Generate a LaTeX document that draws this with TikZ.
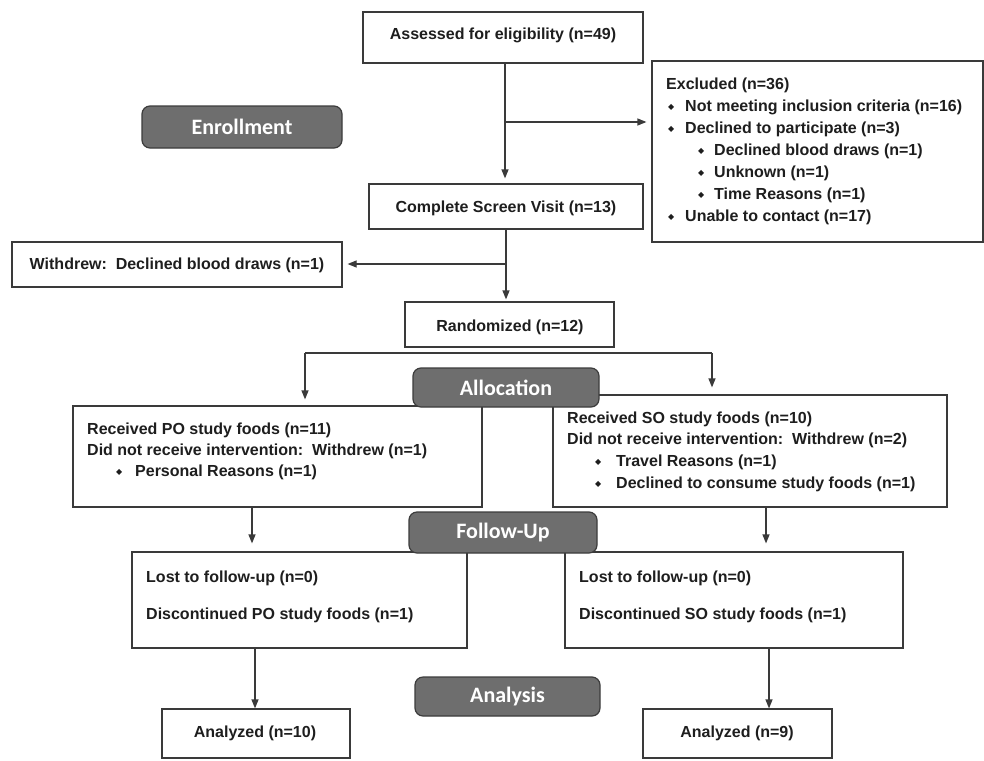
\documentclass[tikz,border=0pt]{standalone}
\usepackage{fontspec}
\setmainfont{Liberation Sans}
\newfontfamily\calib{Carlito}
\newfontfamily\djv{DejaVu Sans}
\usetikzlibrary{arrows.meta}
\definecolor{boxc}{HTML}{3A3A3A}
\definecolor{phasefill}{HTML}{6E6E6E}
\definecolor{phasedraw}{HTML}{3C3C3C}
\definecolor{txtc}{HTML}{1E1E1E}
\newcommand\bul[1]{\makebox[#1pt][l]{\raisebox{2pt}{\djv\fontsize{8}{8}\selectfont ◆}}}
\tikzset{
  box/.style={draw=boxc, line width=1.2pt, fill=white, inner sep=0pt},
  phase/.style={draw=phasedraw, line width=1.2pt, fill=phasefill, rounded corners=8pt, inner sep=0pt,
     text=white, font=\calib\bfseries\fontsize{22}{24}\selectfont},
  txt/.style={anchor=base west, inner sep=0pt, text=txtc, font=\bfseries\fontsize{16}{19}\selectfont},
  ctxt/.style={anchor=base, inner sep=0pt, text=txtc, font=\bfseries\fontsize{16}{19}\selectfont},
  ln/.style={draw=boxc, line width=1.2pt},
  arr/.style={draw=boxc, line width=1.2pt, -{Triangle[length=9pt,width=7pt]}}
}
\begin{document}
\begin{tikzpicture}[x=1pt,y=-1pt]
\useasboundingbox (0,0) rectangle (984,760);
\fill[white] (0,0) rectangle (984,760);

% boxes
\node[box, minimum width=280pt, minimum height=51pt] (assess) at (503,37.5) {};
\node[box, minimum width=331pt, minimum height=181pt] (excl) at (817.5,151.5) {};
\node[box, minimum width=274pt, minimum height=45pt] (complete) at (506,206.5) {};
\node[box, minimum width=330pt, minimum height=45pt] (withdrew) at (177,264.5) {};
\node[box, minimum width=209pt, minimum height=45pt] (rand) at (509.5,324.5) {};
\node[box, minimum width=409pt, minimum height=101pt] (po) at (277.5,456.5) {};
\node[box, minimum width=394pt, minimum height=112pt] (so) at (750,451) {};
\node[box, minimum width=335pt, minimum height=96pt] (lowL) at (299.5,600) {};
\node[box, minimum width=338pt, minimum height=96pt] (lowR) at (734,600) {};
\node[box, minimum width=188pt, minimum height=49pt] (anaL) at (256,733.5) {};
\node[box, minimum width=189pt, minimum height=49pt] (anaR) at (737.5,733.5) {};

% connectors
\coordinate (j1) at (505,122);
\draw[ln] (assess.south -| j1) -- (j1);
\draw[arr, shorten >=5pt] (j1) -- (j1 |- complete.north);
\draw[arr, shorten >=5pt] (j1) -- (j1 -| excl.west);
\coordinate (j2) at (506,264);
\draw[ln] (complete.south -| j2) -- (j2);
\draw[arr, shorten >=2pt] (j2) -- (j2 |- rand.north);
\draw[arr, shorten >=5pt] (j2) -- (j2 -| withdrew.east);
\coordinate (jl) at (305,353);
\coordinate (jr) at (712,353);
\draw[ln] (jl) -- (jr);
\draw[arr, shorten >=6pt] (jl) -- (jl |- po.north);
\draw[arr, shorten >=7pt] (jr) -- (jr |- so.north);
\coordinate (k1) at (252,530);
\coordinate (k2) at (766,530);
\draw[arr, shorten >=8pt] (po.south -| k1) -- (lowL.north -| k1);
\draw[arr, shorten >=8pt] (so.south -| k2) -- (lowR.north -| k2);
\coordinate (k3) at (255,680);
\coordinate (k4) at (769,680);
\draw[arr] (lowL.south -| k3) -- (anaL.north -| k3);
\draw[arr] (lowR.south -| k4) -- (anaR.north -| k4);

% phase labels
\node[phase, minimum width=200pt, minimum height=42pt] (enroll) at (242,127) {Enrollment};
\node[phase, minimum width=186pt, minimum height=39pt] (alloc) at (506,387.5) {Allocation};
\node[phase, minimum width=188pt, minimum height=41pt] (follow) at (503,532.5) {Follow-Up};
\node[phase, minimum width=185pt, minimum height=39pt] (analysis) at (507.5,696.5) {Analysis};

% texts
\node[ctxt] (tassess) at (503,40) {Assessed for eligibility (n=49)};
\node[txt] (ex1) at (666,89) {Excluded (n=36)};
\node[txt] (ex2) at (668,111) {\bul{17}Not meeting inclusion criteria (n=16)};
\node[txt] (ex3) at (668,133) {\bul{17}Declined to participate (n=3)};
\node[txt] (ex4) at (698,155) {\bul{16}Declined blood draws (n=1)};
\node[txt] (ex5) at (698,177) {\bul{16}Unknown (n=1)};
\node[txt] (ex6) at (698,199) {\bul{16}Time Reasons (n=1)};
\node[txt] (ex7) at (668,221) {\bul{17}Unable to contact (n=17)};
\node[ctxt] (tcomplete) at (506,212) {Complete Screen Visit (n=13)};
\node[ctxt] (twithdrew) at (177,269) {Withdrew:\ \ Declined blood draws (n=1)};
\node[ctxt] (trand) at (510,331) {Randomized (n=12)};
\node[txt] (po1) at (87,434) {Received PO study foods (n=11)};
\node[txt] (po2) at (87,455) {Did not receive intervention:\ \ Withdrew (n=1)};
\node[txt] (po3) at (116,476) {\bul{19}Personal Reasons (n=1)};
\node[txt] (so1) at (567,423) {Received SO study foods (n=10)};
\node[txt] (so2) at (567,444) {Did not receive intervention:\ \ Withdrew (n=2)};
\node[txt] (so3) at (595,466) {\bul{21}Travel Reasons (n=1)};
\node[txt] (so4) at (595,488) {\bul{21}Declined to consume study foods (n=1)};
\node[txt] (lo1) at (146,582) {Lost to follow-up (n=0)};
\node[txt] (lo2) at (146,619) {Discontinued PO study foods (n=1)};
\node[txt] (ro1) at (579,582) {Lost to follow-up (n=0)};
\node[txt] (ro2) at (579,619) {Discontinued SO study foods (n=1)};
\node[ctxt] (tanaL) at (255,737) {Analyzed (n=10)};
\node[ctxt] (tanaR) at (737,737) {Analyzed (n=9)};
\end{tikzpicture}
\end{document}
